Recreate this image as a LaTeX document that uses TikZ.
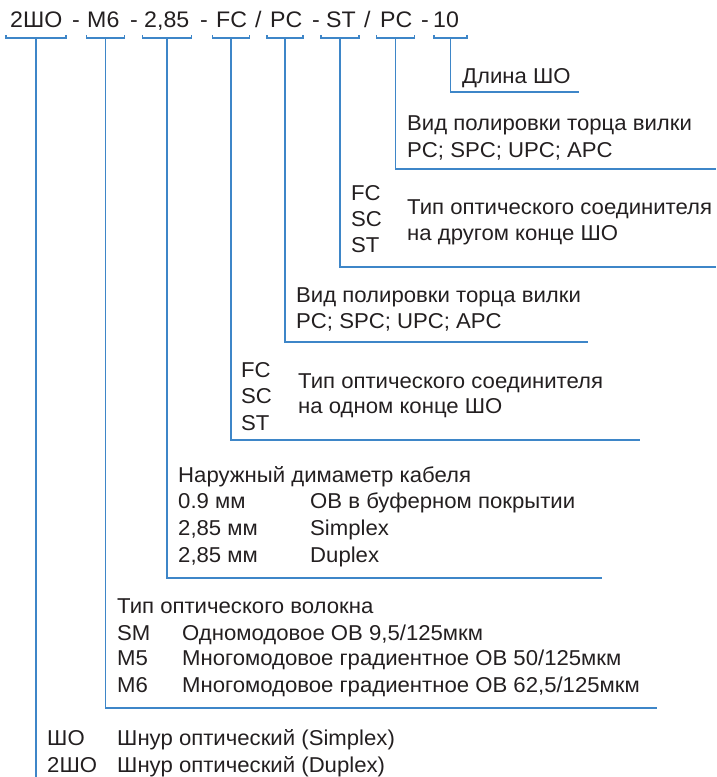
\documentclass[tikz,border=0pt]{standalone}
\usepackage{fontspec}
\setmainfont{Liberation Sans}
\newfontfamily\bodyfont[FakeStretch=1.03]{Liberation Sans}
\definecolor{lineblue}{RGB}{62,134,200}
\definecolor{ink}{RGB}{35,31,32}
\begin{document}
\begin{tikzpicture}[x=1pt,y=-1pt,
  lead/.style={draw=lineblue,line width=1.8pt},
  code/.style={anchor=base west,inner sep=0pt,font=\bodyfont\fontsize{22.5}{26}\selectfont,text=ink},
  lbl/.style={anchor=base west,inner sep=0pt,font=\bodyfont\fontsize{21.5}{26}\selectfont,text=ink}]
\useasboundingbox (0,0) rectangle (716,777);
% ---- code line
\node[code] (c1) at (10,27) {2ШО};
\node[code] (s1) at (72,27) {-};
\node[code] (c2) at (87,27) {М6};
\node[code] (s2) at (130,27) {-};
\node[code] (c3) at (144,27) {2,85};
\node[code] (s3) at (200,27) {-};
\node[code] (c4) at (216,27) {FC};
\node[code] (s4) at (255,27) {/};
\node[code] (c5) at (270,27) {PC};
\node[code] (s5) at (312,27) {-};
\node[code] (c6) at (326,27) {ST};
\node[code] (s6) at (364,27) {/};
\node[code] (c7) at (380,27) {PC};
\node[code] (s7) at (421,27) {-};
\node[code] (c8) at (433,27) {10};
% ---- brackets
\draw[lead] (6,35) -- (6,38) -- (66,38) -- (66,35);
\draw[lead] (86.5,35) -- (86.5,38) -- (124.5,38) -- (124.5,35);
\draw[lead] (142.5,35) -- (142.5,38) -- (191.5,38) -- (191.5,35);
\draw[lead] (212.5,35) -- (212.5,38) -- (249.5,38) -- (249.5,35);
\draw[lead] (267,35) -- (267,38) -- (303,38) -- (303,35);
\draw[lead] (321,35) -- (321,38) -- (359,38) -- (359,35);
\draw[lead] (376.5,35) -- (376.5,38) -- (414.5,38) -- (414.5,35);
\draw[lead] (434,35) -- (434,38) -- (467,38) -- (467,35);
% ---- leader coordinates
\coordinate (t1) at (36,38);    \coordinate (k1) at (36,777);
\coordinate (t2) at (105.5,38); \coordinate (k2) at (105.5,708); \coordinate (e2) at (657,708);
\coordinate (t3) at (167,38);   \coordinate (k3) at (167,578);   \coordinate (e3) at (602,578);
\coordinate (t4) at (231,38);   \coordinate (k4) at (231,440);   \coordinate (e4) at (640,440);
\coordinate (t5) at (285,38);   \coordinate (k5) at (285,342);   \coordinate (e5) at (588,342);
\coordinate (t6) at (340,38);   \coordinate (k6) at (340,267);   \coordinate (e6) at (716,267);
\coordinate (t7) at (395.5,38); \coordinate (k7) at (395.5,169); \coordinate (e7) at (716,169);
\coordinate (t8) at (450.5,38); \coordinate (k8) at (450.5,92);  \coordinate (e8) at (579,92);
\draw[lead] (t1) -- (k1);
\draw[lead] (t2) -- (k2) -- (e2);
\draw[lead] (t3) -- (k3) -- (e3);
\draw[lead] (t4) -- (k4) -- (e4);
\draw[lead] (t5) -- (k5) -- (e5);
\draw[lead] (t6) -- (k6) -- (e6);
\draw[lead] (t7) -- (k7) -- (e7);
\draw[lead] (t8) -- (k8) -- (e8);
% ---- labels: length
\node[lbl] (len) at (462,83) {Длина ШО};
% second polish
\node[lbl] (pol2a) at (407,130) {Вид полировки торца вилки};
\node[lbl] (pol2b) at (407,157) {PC; SPC; UPC; APC};
% second connector
\node[lbl] (con2a) at (351,200) {FC};
\node[lbl] (con2b) at (351,226) {SC};
\node[lbl] (con2c) at (351,252) {ST};
\node[lbl] (con2d) at (407,214) {Тип оптического соединителя};
\node[lbl] (con2e) at (407,240) {на другом конце ШО};
% first polish
\node[lbl] (pol1a) at (296,302) {Вид полировки торца вилки};
\node[lbl] (pol1b) at (296,328) {PC; SPC; UPC; APC};
% first connector
\node[lbl] (con1a) at (241,377) {FC};
\node[lbl] (con1b) at (241,403) {SC};
\node[lbl] (con1c) at (241,430) {ST};
\node[lbl] (con1d) at (298,388) {Тип оптического соединителя};
\node[lbl] (con1e) at (298,413) {на одном конце ШО};
% diameter
\node[lbl] (dia0) at (178,482) {Наружный димаметр кабеля};
\node[lbl] (dia1) at (178,508) {0.9 мм};
\node[lbl] (dia1b) at (310,508) {ОВ в буферном покрытии};
\node[lbl] (dia2) at (178,535) {2,85 мм};
\node[lbl] (dia2b) at (310,535) {Simplex};
\node[lbl] (dia3) at (178,562) {2,85 мм};
\node[lbl] (dia3b) at (310,562) {Duplex};
% fibre
\node[lbl] (fib0) at (117,613) {Тип оптического волокна};
\node[lbl] (fib1) at (117,640) {SM};
\node[lbl] (fib1b) at (182,640) {Одномодовое ОВ 9,5/125мкм};
\node[lbl] (fib2) at (117,665) {M5};
\node[lbl] (fib2b) at (182,665) {Многомодовое градиентное ОВ 50/125мкм};
\node[lbl] (fib3) at (117,692) {M6};
\node[lbl] (fib3b) at (182,692) {Многомодовое градиентное ОВ 62,5/125мкм};
% cord
\node[lbl] (crd1) at (47,745) {ШО};
\node[lbl] (crd1b) at (117,745) {Шнур оптический (Simplex)};
\node[lbl] (crd2) at (47,772) {2ШО};
\node[lbl] (crd2b) at (117,772) {Шнур оптический (Duplex)};
\end{tikzpicture}
\end{document}
